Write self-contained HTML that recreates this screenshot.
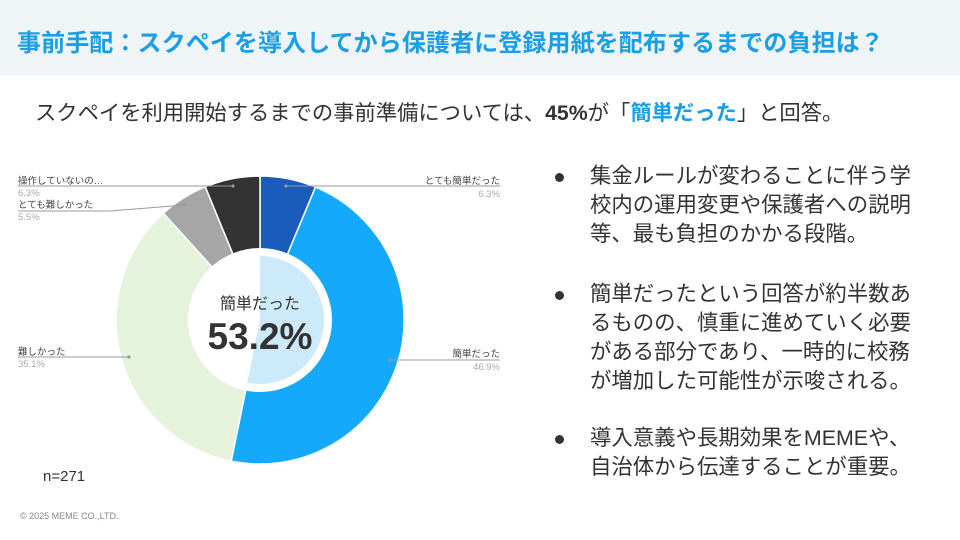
<!DOCTYPE html>
<html><head><meta charset="utf-8"><style>
body{margin:0;width:960px;height:540px;overflow:hidden;background:#fff;font-family:"Liberation Sans","Noto Sans CJK JP",sans-serif;position:relative}
.hdr{position:absolute;left:0;top:0;width:960px;height:75px;background:#eff4f7}
.title{position:absolute;left:17px;top:23px;font-size:24px;font-weight:bold;color:#1a9fe6;white-space:nowrap;letter-spacing:0.1px}
.sub{position:absolute;left:35px;top:96px;font-size:21.3px;color:#333;white-space:nowrap}
.sub b{font-weight:bold}.sub .bl{color:#1a9fe6;font-weight:bold}
.bul{position:absolute;left:590px;font-size:21.4px;line-height:29px;color:#333;white-space:nowrap}
.dot{position:absolute;left:555px;width:9px;height:9px;border-radius:50%;background:#333}
.n{position:absolute;left:43px;top:468px;font-size:15px;color:#333}
.ft{position:absolute;left:20px;top:511px;font-size:9px;color:#888}
</style></head><body>
<div class="hdr"></div>
<div class="title">事前手配：スクペイを導入してから保護者に登録用紙を配布するまでの負担は？</div>
<div class="sub">スクペイを利用開始するまでの事前準備については、<b>45%</b>が「<span class="bl">簡単だった</span>」と回答。</div>
<svg width="960" height="540" style="position:absolute;left:0;top:0">
<g stroke="#fff" stroke-width="1.5">
<path d="M260,320 L260,176 A144,144 0 0 1 315.5,187.1 Z" fill="#1a5cbb"/>
<path d="M260,320 L315.5,187.1 A144,144 0 0 1 231.2,461.1 Z" fill="#14a9fb"/>
<path d="M260,320 L231.2,461.1 A144,144 0 0 1 163.4,213.2 Z" fill="#e5f2dc"/>
<path d="M260,320 L163.4,213.2 A144,144 0 0 1 205.3,186.8 Z" fill="#a6a6a6"/>
<path d="M260,320 L205.3,186.8 A144,144 0 0 1 260,176 Z" fill="#333333"/>
</g>
<circle cx="260" cy="320" r="72" fill="#fff"/>
<path d="M260,320 L260,256 A64,64 0 1 1 247.2,382.7 Z" fill="#cdeafb"/>
<g stroke="#999" stroke-width="1" fill="none">
<line x1="286" y1="186" x2="500" y2="186"/>
<line x1="390" y1="360" x2="500" y2="360"/>
<line x1="18" y1="186" x2="233" y2="186"/>
<polyline points="18,211 110,211 185,205"/>
<line x1="18" y1="357" x2="129" y2="357"/>
</g>
<g fill="#999"><circle cx="286" cy="186" r="1.6"/><circle cx="390" cy="360" r="1.6"/><circle cx="233" cy="186" r="1.6"/><circle cx="185" cy="205" r="1.6"/><circle cx="129" cy="357" r="1.6"/></g>
<g font-size="9.5" font-family="Liberation Sans,Noto Sans CJK JP,sans-serif">
<text x="500" y="184" text-anchor="end" fill="#444">とても簡単だった</text>
<text x="500" y="197" text-anchor="end" fill="#aaa">6.3%</text>
<text x="500" y="357" text-anchor="end" fill="#444">簡単だった</text>
<text x="500" y="370" text-anchor="end" fill="#aaa">46.9%</text>
<text x="18" y="184" fill="#444">操作していないの…</text>
<text x="18" y="196" fill="#aaa">6.3%</text>
<text x="18" y="208" fill="#444">とても難しかった</text>
<text x="18" y="220" fill="#aaa">5.5%</text>
<text x="18" y="355" fill="#444">難しかった</text>
<text x="18" y="367" fill="#aaa">35.1%</text>
</g>
<text x="260" y="309" text-anchor="middle" font-size="16" fill="#333" font-family="Liberation Sans,Noto Sans CJK JP,sans-serif">簡単だった</text>
<text x="260" y="349" text-anchor="middle" font-size="37" font-weight="bold" fill="#333" font-family="Liberation Sans,sans-serif">53.2%</text>
</svg>
<div class="dot" style="top:173px"></div>
<div class="bul" style="top:162px">集金ルールが変わることに伴う学<br>校内の運用変更や保護者への説明<br>等、最も負担のかかる段階。</div>
<div class="dot" style="top:291px"></div>
<div class="bul" style="top:280px">簡単だったという回答が約半数あ<br>るものの、慎重に進めていく必要<br>がある部分であり、一時的に校務<br>が増加した可能性が示唆される。</div>
<div class="dot" style="top:435px"></div>
<div class="bul" style="top:424px">導入意義や長期効果をMEMEや、<br>自治体から伝達することが重要。</div>
<div class="n">n=271</div>
<div class="ft">© 2025 MEME CO.,LTD.</div>
</body></html>
